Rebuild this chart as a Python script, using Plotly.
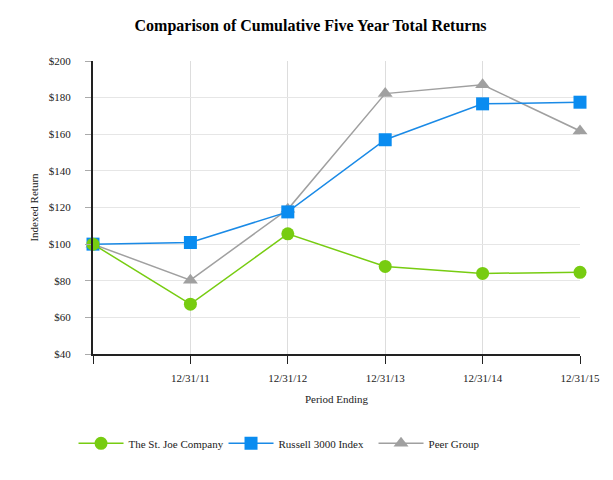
import plotly.graph_objects as go

periods = ["12/31/10", "12/31/11", "12/31/12", "12/31/13", "12/31/14", "12/31/15"]
tick_labels = ["", "12/31/11", "12/31/12", "12/31/13", "12/31/14", "12/31/15"]
st_joe = [100, 67.2, 105.6, 87.8, 84.0, 84.6]
russell = [100, 100.9, 117.6, 157.0, 176.6, 177.5]
peer = [100, 80.3, 119.0, 182.2, 187.0, 161.8]

x = list(range(len(periods)))

fig = go.Figure()
# drawn bottom to top: Peer, Russell, St. Joe (legend reversed)
fig.add_trace(go.Scatter(x=x, y=peer, name="Peer Group", mode="lines+markers",
                         line=dict(color="#a0a0a0", width=1.5), cliponaxis=False,
                         marker=dict(symbol="triangle-up", size=13, color="#a0a0a0")))
fig.add_trace(go.Scatter(x=x, y=russell, name="Russell 3000 Index", mode="lines+markers",
                         line=dict(color="#1a8ae6", width=1.5), cliponaxis=False,
                         marker=dict(symbol="square", size=13, color="#0a8cf0")))
fig.add_trace(go.Scatter(x=x, y=st_joe, name="The St. Joe Company", mode="lines+markers",
                         line=dict(color="#77cc11", width=1.5), cliponaxis=False,
                         marker=dict(symbol="circle", size=13, color="#77cc11")))

font = "Liberation Serif, Times New Roman, serif"
fig.update_layout(
    width=605, height=472,
    margin=dict(l=85, r=33, t=53, b=126),
    paper_bgcolor="white", plot_bgcolor="white",
    font=dict(family=font, size=11, color="#222"),
    title=dict(text="<b>Comparison of Cumulative Five Year Total Returns</b>",
               x=0.5, xanchor="center", y=0.964, yanchor="middle",
               font=dict(family=font, size=16, color="black")),
    showlegend=True,
    legend=dict(orientation="h", x=-0.04, xanchor="left", y=-0.305, yanchor="middle",
                font=dict(family=font, size=11, color="#222"),
                itemwidth=45, entrywidth=90, entrywidthmode="pixels",
                traceorder="reversed", tracegroupgap=0),
    xaxis=dict(range=[0, 5], tickvals=x, ticktext=tick_labels,
               showgrid=True, gridcolor="#dddddd", gridwidth=1,
               showline=True, linecolor="#222", linewidth=2,
               ticks="outside", ticklen=8, tickcolor="#222", tickwidth=1,
               ticklabelstandoff=5, zeroline=False,
               title=dict(text="Period Ending", standoff=12,
                          font=dict(family=font, size=11, color="#222"))),
    yaxis=dict(range=[40, 200], dtick=20, tickprefix="$",
               showgrid=True, gridcolor="#e6e6e6", gridwidth=1,
               showline=True, linecolor="#222", linewidth=2,
               ticks="outside", ticklen=6, tickcolor="#aaaaaa",
               ticklabelstandoff=12, zeroline=False,
               title=dict(text="Indexed Return", standoff=8,
                          font=dict(family=font, size=11, color="#222"))),
)

fig.write_html("out.html")
